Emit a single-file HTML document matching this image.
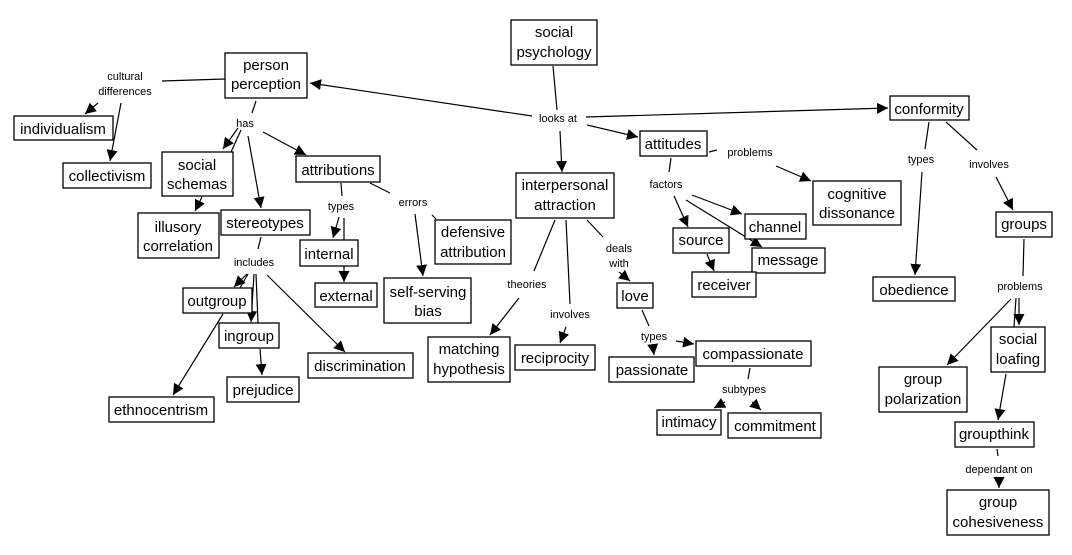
<!DOCTYPE html>
<html><head><meta charset="utf-8"><style>
html,body{margin:0;padding:0;background:#fff;}
svg{display:block;}
.n{fill:#fff;stroke:#000;stroke-width:1.3;}
.t{font-family:"Liberation Sans",sans-serif;font-size:15px;fill:#000;text-anchor:middle;}
.l{font-family:"Liberation Sans",sans-serif;font-size:11px;fill:#000;text-anchor:middle;}
line{stroke:#000;stroke-width:1.2;}
</style></head><body>
<svg width="1072" height="555" viewBox="0 0 1072 555">
<defs><marker id="a" viewBox="0 0 10 10" refX="10" refY="5" markerWidth="11" markerHeight="11" markerUnits="userSpaceOnUse" orient="auto"><path d="M0,0L10,5L0,10z" fill="#000"/></marker></defs>
<g>
<line x1="553" y1="66" x2="557" y2="110"/>
<line x1="532" y1="116" x2="310" y2="83" marker-end="url(#a)"/>
<line x1="586" y1="117" x2="888" y2="108" marker-end="url(#a)"/>
<line x1="587" y1="125" x2="638" y2="137" marker-end="url(#a)"/>
<line x1="560" y1="131" x2="562" y2="172" marker-end="url(#a)"/>
<line x1="225" y1="79" x2="162" y2="81"/>
<line x1="98" y1="103" x2="85" y2="114" marker-end="url(#a)"/>
<line x1="121" y1="103" x2="110" y2="161" marker-end="url(#a)"/>
<line x1="256" y1="101" x2="252" y2="113"/>
<line x1="238" y1="128" x2="223" y2="149" marker-end="url(#a)"/>
<line x1="241" y1="130" x2="231" y2="152"/>
<line x1="248" y1="136" x2="261" y2="208" marker-end="url(#a)"/>
<line x1="263" y1="132" x2="306" y2="155" marker-end="url(#a)"/>
<line x1="202" y1="197" x2="195" y2="211" marker-end="url(#a)"/>
<line x1="341" y1="183" x2="342" y2="196"/>
<line x1="339" y1="217" x2="333" y2="238" marker-end="url(#a)"/>
<line x1="344" y1="218" x2="344" y2="282" marker-end="url(#a)"/>
<line x1="370" y1="183" x2="390" y2="193"/>
<line x1="415" y1="214" x2="423" y2="276" marker-end="url(#a)"/>
<line x1="432" y1="215" x2="436" y2="219"/>
<line x1="261" y1="237" x2="258" y2="249"/>
<line x1="247" y1="274" x2="234" y2="287" marker-end="url(#a)"/>
<line x1="248" y1="274" x2="240" y2="288"/>
<line x1="254" y1="274" x2="251" y2="322" marker-end="url(#a)"/>
<line x1="256" y1="274" x2="258" y2="323"/>
<line x1="267" y1="275" x2="345" y2="352" marker-end="url(#a)"/>
<line x1="223" y1="314" x2="173" y2="395" marker-end="url(#a)"/>
<line x1="260" y1="349" x2="262" y2="375" marker-end="url(#a)"/>
<line x1="671" y1="158" x2="669" y2="172"/>
<line x1="709" y1="152" x2="717" y2="150"/>
<line x1="776" y1="166" x2="811" y2="181" marker-end="url(#a)"/>
<line x1="674" y1="196" x2="688" y2="227" marker-end="url(#a)"/>
<line x1="692" y1="195" x2="742" y2="214" marker-end="url(#a)"/>
<line x1="686" y1="200" x2="762" y2="247" marker-end="url(#a)"/>
<line x1="707" y1="254" x2="714" y2="271" marker-end="url(#a)"/>
<line x1="929" y1="122" x2="925" y2="149"/>
<line x1="922" y1="172" x2="915" y2="275" marker-end="url(#a)"/>
<line x1="946" y1="122" x2="977" y2="150"/>
<line x1="996" y1="177" x2="1013" y2="210" marker-end="url(#a)"/>
<line x1="1024" y1="239" x2="1023" y2="276"/>
<line x1="1011" y1="299" x2="947" y2="365" marker-end="url(#a)"/>
<line x1="1019" y1="298" x2="1019" y2="325" marker-end="url(#a)"/>
<line x1="1016" y1="298" x2="1014" y2="327"/>
<line x1="1006" y1="374" x2="998" y2="420" marker-end="url(#a)"/>
<line x1="997" y1="449" x2="998" y2="456"/>
<line x1="999" y1="480" x2="999" y2="488" marker-end="url(#a)"/>
<line x1="555" y1="220" x2="534" y2="271"/>
<line x1="519" y1="298" x2="490" y2="335" marker-end="url(#a)"/>
<line x1="566" y1="220" x2="570" y2="304"/>
<line x1="566" y1="327" x2="560" y2="343" marker-end="url(#a)"/>
<line x1="587" y1="220" x2="603" y2="237"/>
<line x1="619" y1="272" x2="630" y2="281" marker-end="url(#a)"/>
<line x1="642" y1="310" x2="649" y2="326"/>
<line x1="653" y1="347" x2="654" y2="355" marker-end="url(#a)"/>
<line x1="676" y1="341" x2="694" y2="344" marker-end="url(#a)"/>
<line x1="750" y1="368" x2="748" y2="379"/>
<line x1="725" y1="402" x2="714" y2="408" marker-end="url(#a)"/>
<line x1="752" y1="402" x2="761" y2="410" marker-end="url(#a)"/>
</g>
<g>
<rect class="n" x="511" y="20" width="86" height="45"/><text class="t" x="554" y="37">social</text><text class="t" x="554" y="57">psychology</text>
<rect class="n" x="225" y="53" width="82" height="45"/><text class="t" x="266" y="70">person</text><text class="t" x="266" y="89">perception</text>
<rect class="n" x="14" y="116" width="99" height="24"/><text class="t" x="63" y="134">individualism</text>
<rect class="n" x="63" y="163" width="88" height="25"/><text class="t" x="107" y="181">collectivism</text>
<rect class="n" x="162" y="152" width="71" height="44"/><text class="t" x="197" y="170">social</text><text class="t" x="197" y="189">schemas</text>
<rect class="n" x="138" y="213" width="81" height="45"/><text class="t" x="178" y="232">illusory</text><text class="t" x="178" y="251">correlation</text>
<rect class="n" x="221" y="210" width="89" height="25"/><text class="t" x="265" y="228">stereotypes</text>
<rect class="n" x="296" y="156" width="84" height="26"/><text class="t" x="338" y="175">attributions</text>
<rect class="n" x="300" y="240" width="58" height="26"/><text class="t" x="329" y="259">internal</text>
<rect class="n" x="435" y="220" width="76" height="44"/><text class="t" x="473" y="237">defensive</text><text class="t" x="473" y="257">attribution</text>
<rect class="n" x="315" y="283" width="62" height="24"/><text class="t" x="346" y="301">external</text>
<rect class="n" x="384" y="278" width="87" height="45"/><text class="t" x="428" y="297">self-serving</text><text class="t" x="428" y="316">bias</text>
<rect class="n" x="183" y="288" width="69" height="25"/><text class="t" x="217" y="306">outgroup</text>
<rect class="n" x="219" y="323" width="60" height="25"/><text class="t" x="249" y="341">ingroup</text>
<rect class="n" x="308" y="353" width="105" height="25"/><text class="t" x="360" y="371">discrimination</text>
<rect class="n" x="227" y="377" width="72" height="25"/><text class="t" x="263" y="395">prejudice</text>
<rect class="n" x="109" y="397" width="105" height="25"/><text class="t" x="161" y="415">ethnocentrism</text>
<rect class="n" x="428" y="337" width="82" height="45"/><text class="t" x="469" y="354">matching</text><text class="t" x="469" y="374">hypothesis</text>
<rect class="n" x="890" y="96" width="79" height="24"/><text class="t" x="929" y="114">conformity</text>
<rect class="n" x="640" y="131" width="67" height="25"/><text class="t" x="673" y="149">attitudes</text>
<rect class="n" x="516" y="173" width="98" height="45"/><text class="t" x="565" y="190">interpersonal</text><text class="t" x="565" y="210">attraction</text>
<rect class="n" x="813" y="181" width="88" height="44"/><text class="t" x="857" y="199">cognitive</text><text class="t" x="857" y="218">dissonance</text>
<rect class="n" x="996" y="212" width="56" height="25"/><text class="t" x="1024" y="229">groups</text>
<rect class="n" x="745" y="214" width="61" height="25"/><text class="t" x="775" y="232">channel</text>
<rect class="n" x="673" y="228" width="56" height="25"/><text class="t" x="701" y="245">source</text>
<rect class="n" x="752" y="248" width="73" height="25"/><text class="t" x="788" y="265">message</text>
<rect class="n" x="692" y="272" width="64" height="25"/><text class="t" x="724" y="290">receiver</text>
<rect class="n" x="873" y="277" width="82" height="24"/><text class="t" x="914" y="295">obedience</text>
<rect class="n" x="617" y="283" width="36" height="25"/><text class="t" x="635" y="301">love</text>
<rect class="n" x="515" y="345" width="80" height="25"/><text class="t" x="555" y="363">reciprocity</text>
<rect class="n" x="609" y="357" width="85" height="25"/><text class="t" x="652" y="375">passionate</text>
<rect class="n" x="696" y="341" width="115" height="25"/><text class="t" x="753" y="359">compassionate</text>
<rect class="n" x="657" y="410" width="64" height="25"/><text class="t" x="689" y="427">intimacy</text>
<rect class="n" x="728" y="413" width="93" height="25"/><text class="t" x="775" y="431">commitment</text>
<rect class="n" x="991" y="327" width="54" height="45"/><text class="t" x="1018" y="344">social</text><text class="t" x="1018" y="364">loafing</text>
<rect class="n" x="879" y="367" width="88" height="45"/><text class="t" x="923" y="384">group</text><text class="t" x="923" y="404">polarization</text>
<rect class="n" x="955" y="422" width="79" height="25"/><text class="t" x="994" y="439">groupthink</text>
<rect class="n" x="947" y="490" width="102" height="45"/><text class="t" x="998" y="507">group</text><text class="t" x="998" y="527">cohesiveness</text>
</g>
<g>
<text class="l" x="125" y="80">cultural</text><text class="l" x="125" y="95">differences</text>
<text class="l" x="245" y="127">has</text>
<text class="l" x="341" y="210">types</text>
<text class="l" x="413" y="206">errors</text>
<text class="l" x="254" y="266">includes</text>
<text class="l" x="558" y="122">looks at</text>
<text class="l" x="750" y="156">problems</text>
<text class="l" x="666" y="188">factors</text>
<text class="l" x="921" y="163">types</text>
<text class="l" x="989" y="168">involves</text>
<text class="l" x="619" y="252">deals</text><text class="l" x="619" y="267">with</text>
<text class="l" x="527" y="288">theories</text>
<text class="l" x="570" y="318">involves</text>
<text class="l" x="654" y="340">types</text>
<text class="l" x="744" y="393">subtypes</text>
<text class="l" x="1020" y="290">problems</text>
<text class="l" x="999" y="473">dependant on</text>
</g>
</svg>
</body></html>
